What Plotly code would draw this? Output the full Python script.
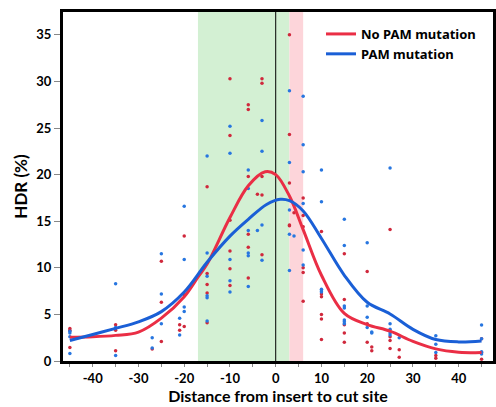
import plotly.graph_objects as go

# ---- Data ----
red_x = [-45, -45, -45,
         -35, -35, -35,
         -27,
         -25, -25, -25,
         -21, -21,
         -20, -20, -20,
         -15, -15, -15, -15, -15,
         -10, -10, -10, -10, -10, -10,
         -6, -6, -6, -6, -6, -6,
         -4,
         -3, -3, -3, -3, -3,
         3, 3, 3, 3, 3,
         4,
         6, 6, 6, 6, 6, 6,
         10, 10, 10, 10, 10, 10,
         15, 15, 15, 15, 15,
         20, 20, 20,
         21, 21,
         25, 25, 25, 25,
         27, 27,
         35, 35,
         45, 45, 45]
red_y = [3.5, 3.3, 1.45,
         3.9, 3.3, 1.1,
         1.3,
         10.7, 6.3, 2.1,
         3.9, 3.3,
         13.4, 7.1, 3.7,
         18.7, 9.4, 8.2, 7.3, 4.1,
         30.3, 24.2, 15.1, 11.8, 9.9, 8.1,
         27.5, 27.0, 19.8, 13.6, 12.2, 8.9,
         17.9,
         30.3, 29.8, 19.8, 17.8, 11.4,
         35.0, 24.3, 19.1, 14.6, 14.5,
         15.9,
         17.5, 15.6, 14.4, 10.0, 9.5, 6.4,
         13.9, 7.2, 6.9, 5.0, 4.5, 2.3,
         11.5, 6.6, 3.9, 3.0, 2.0,
         9.6, 4.0, 2.0,
         1.5, 1.1,
         14.1, 2.6, 2.2, 1.35,
         1.2, 0.4,
         0.6, 0.3,
         2.4, 0.9, 0.2]

blue_x = [-45, -45, -45, -45,
          -35, -35, -35,
          -27, -27,
          -25, -25, -25,
          -21, -21,
          -20, -20, -20, -20,
          -15, -15, -15, -15, -15, -15,
          -10, -10, -10, -10, -10,
          -6, -6, -6, -6, -6, -6,
          -4,
          -3, -3, -3, -3,
          3, 3, 3, 3, 3,
          4,
          6, 6, 6, 6, 6, 6,
          10, 10, 10, 10, 10,
          15, 15, 15, 15, 15, 15, 15,
          20, 20, 20, 20,
          21, 21,
          25, 25, 25, 25, 25,
          27,
          35, 35, 35,
          45, 45, 45, 45]
blue_y = [3.2, 3.0, 2.6, 0.8,
          8.3, 3.6, 0.6,
          2.5, 1.4,
          11.5, 7.2, 4.0,
          4.6, 2.8,
          16.6, 10.9, 5.8, 5.3,
          22.0, 11.6, 9.1, 7.0, 6.8, 4.3,
          25.2, 22.3, 10.9, 8.6, 7.4,
          20.5, 18.5, 14.0, 11.6, 11.3, 8.0,
          14.0,
          25.8, 22.5, 14.6, 10.8,
          29.0, 21.3, 16.2, 13.6, 9.7,
          13.4,
          28.4, 23.2, 20.3, 16.9, 11.9, 10.3,
          20.5, 17.1, 7.7, 7.5, 7.4,
          15.2, 12.4, 5.9, 5.7, 4.4, 4.2, 4.0,
          12.7, 5.9, 4.7, 3.6,
          3.1, 3.0,
          20.7, 4.0, 3.4, 3.0, 2.8,
          2.5,
          2.7, 1.8, 0.9,
          3.85, 2.4, 1.0, 0.75]

# smoothed fit curves
red_fit_x = [-45, -40, -35, -30, -25, -20, -17, -15, -10, -6, -2.3, 0, 3, 6, 10, 15, 20, 25, 30, 35, 40, 45]
red_fit_y = [2.55, 2.6, 2.75, 3.1, 4.6, 6.9, 9.0, 10.4, 15.4, 18.8, 20.3, 20.0, 17.7, 14.1, 9.2, 5.1, 3.9, 3.2, 2.1, 1.3, 0.95, 0.9]
blue_fit_x = [-45, -40, -35, -30, -25, -20, -15, -10, -6, -2, 1, 3, 6, 10, 15, 20, 25, 30, 35, 40, 45]
blue_fit_y = [2.2, 2.85, 3.5, 4.2, 5.3, 7.4, 10.6, 13.4, 15.2, 16.8, 17.35, 17.2, 16.1, 13.15, 9.2, 6.3, 5.05, 3.4, 2.3, 2.05, 2.15]

x_tickvals = [-40, -30, -20, -10, 0, 10, 20, 30, 40]
x_ticktext = ["-40", "-30", "-20", "-10", "0", "10", "20", "30", "40"]
y_tickvals = [0, 5, 10, 15, 20, 25, 30, 35]

green_band = [-17, 3]
pink_band = [3, 6]

RED_LINE = "#EA2E45"
BLUE_LINE = "#1A5FD6"
RED_PT = "#D0283C"
BLUE_PT = "#2776E0"
FONT = "Lato"
LEGEND_FONT = "Noto Sans"

fig = go.Figure()
fig.add_trace(go.Scatter(x=red_x, y=red_y, mode="markers", showlegend=False,
                         marker=dict(color=RED_PT, size=3.5), hoverinfo="skip"))
fig.add_trace(go.Scatter(x=blue_x, y=blue_y, mode="markers", showlegend=False,
                         marker=dict(color=BLUE_PT, size=3.5), hoverinfo="skip"))
fig.add_trace(go.Scatter(x=red_fit_x, y=red_fit_y, mode="lines", name="No PAM mutation",
                         line=dict(color=RED_LINE, width=3, shape="spline", smoothing=1.0)))
fig.add_trace(go.Scatter(x=blue_fit_x, y=blue_fit_y, mode="lines", name="PAM mutation",
                         line=dict(color=BLUE_LINE, width=3, shape="spline", smoothing=1.0)))

fig.add_shape(type="rect", xref="x", yref="paper", x0=green_band[0], x1=green_band[1], y0=0, y1=1,
              fillcolor="#D3F0D3", line_width=0, layer="below")
fig.add_shape(type="rect", xref="x", yref="paper", x0=pink_band[0], x1=pink_band[1], y0=0, y1=1,
              fillcolor="#FDD5DA", line_width=0, layer="below")
fig.add_shape(type="line", xref="x", yref="paper", x0=0, x1=0, y0=0, y1=1,
              line=dict(color="black", width=1), layer="below")

fig.update_layout(
    width=496, height=407,
    margin=dict(l=63, r=3, t=12, b=46, autoexpand=False),
    paper_bgcolor="white", plot_bgcolor="white",
    font=dict(family=FONT, size=13, color="black"),
    legend=dict(x=0.6, y=0.98, xanchor="left", yanchor="top",
                bgcolor="rgba(0,0,0,0)", font=dict(family=LEGEND_FONT, size=13, weight="bold"),
                tracegroupgap=0, itemwidth=30),
    xaxis=dict(range=[-46.5, 47.5], tickvals=x_tickvals, ticktext=x_ticktext,
               showgrid=False, zeroline=False, ticks="outside", ticklen=3, tickcolor="#888",
               showline=True, mirror=True, linecolor="black", linewidth=3,
               tickfont=dict(family=FONT, size=13, weight="bold"),
               minor=dict(dtick=5, tick0=0, ticks="outside", ticklen=3, tickcolor="#888"),
               title=dict(text="Distance from insert to cut site",
                          font=dict(family=FONT, size=16, weight="bold"), standoff=5)),
    yaxis=dict(range=[0, 37.45], tickvals=y_tickvals,
               showgrid=False, zeroline=False, ticks="outside", ticklen=6, tickcolor="#888",
               showline=True, mirror=True, linecolor="black", linewidth=3,
               tickfont=dict(family=FONT, size=13, weight="bold"),
               title=dict(text="HDR (%)", font=dict(family=FONT, size=17, weight="bold"), standoff=5)),
)

fig.write_html("out.html", config={"displayModeBar": False},
               post_script="document.body.style.margin='0';document.body.style.padding='0';")
